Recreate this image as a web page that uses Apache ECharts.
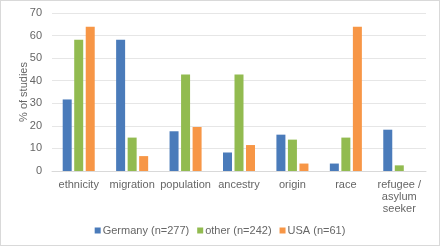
<!DOCTYPE html>
<html>
<head>
<meta charset="utf-8">
<script src="https://cdn.jsdelivr.net/npm/echarts@6/dist/echarts.min.js"></script>
<style>
  html, body { margin: 0; padding: 0; background: #fff; }
  #chart { width: 440px; height: 246px; box-sizing: border-box; border: 1px solid #d9d9d9; }
</style>
</head>
<body>
<div id="chart"></div>
<script>
const categories = ['ethnicity', 'migration', 'population', 'ancestry', 'origin', 'race', 'refugee /\nasylum\nseeker']
const germany = [31.7, 58.1, 17.6, 8.2, 16.1, 3.3, 18.3]
const other = [58.1, 14.8, 42.8, 42.8, 13.9, 14.8, 2.5]
const usa = [63.9, 6.6, 19.5, 11.5, 3.3, 63.9, 0]
const seriesNames = ['Germany (n=277)', 'other (n=242)', 'USA (n=61)']
const colors = ['#4a7bba', '#92bb50', '#f79646']

const chart = echarts.init(document.getElementById('chart'))

let font = 'Liberation Sans'
let textColor = '#666666'
let series = [germany, other, usa].map((d, i) => ({
  name: seriesNames[i],
  type: 'bar',
  data: d,
  barWidth: 9,
  barGap: '28%',
  itemStyle: { color: colors[i] }
}))

let option = {
  backgroundColor: '#fff',
  animation: false,
  grid: { left: 51, right: 13, top: 12, bottom: 74 },
  legend: {
    data: seriesNames,
    top: 219,
    left: 'center',
    icon: 'rect',
    itemWidth: 6,
    itemHeight: 6,
    itemGap: 8,
    textStyle: { color: textColor, fontSize: 11, fontFamily: font, padding: [0, 0, 0, -3] }
  },
  xAxis: {
    type: 'category',
    data: categories,
    axisTick: { show: false },
    axisLine: { lineStyle: { color: '#d9d9d9' } },
    axisLabel: { color: textColor, fontSize: 11, fontFamily: font, interval: 0, margin: 8, lineHeight: 12 }
  },
  yAxis: {
    type: 'value',
    min: 0,
    max: 70,
    interval: 10,
    name: '% of studies',
    nameLocation: 'middle',
    nameGap: 23,
    nameMoveOverlap: false,
    nameTextStyle: { color: textColor, fontSize: 11, fontFamily: font },
    axisLine: { show: false },
    axisTick: { show: false },
    axisLabel: { color: textColor, fontSize: 11, fontFamily: font, margin: 10 },
    splitLine: { lineStyle: { color: '#e6e6e6' } }
  },
  series: series
}
chart.setOption(option)
</script>
</body>
</html>
